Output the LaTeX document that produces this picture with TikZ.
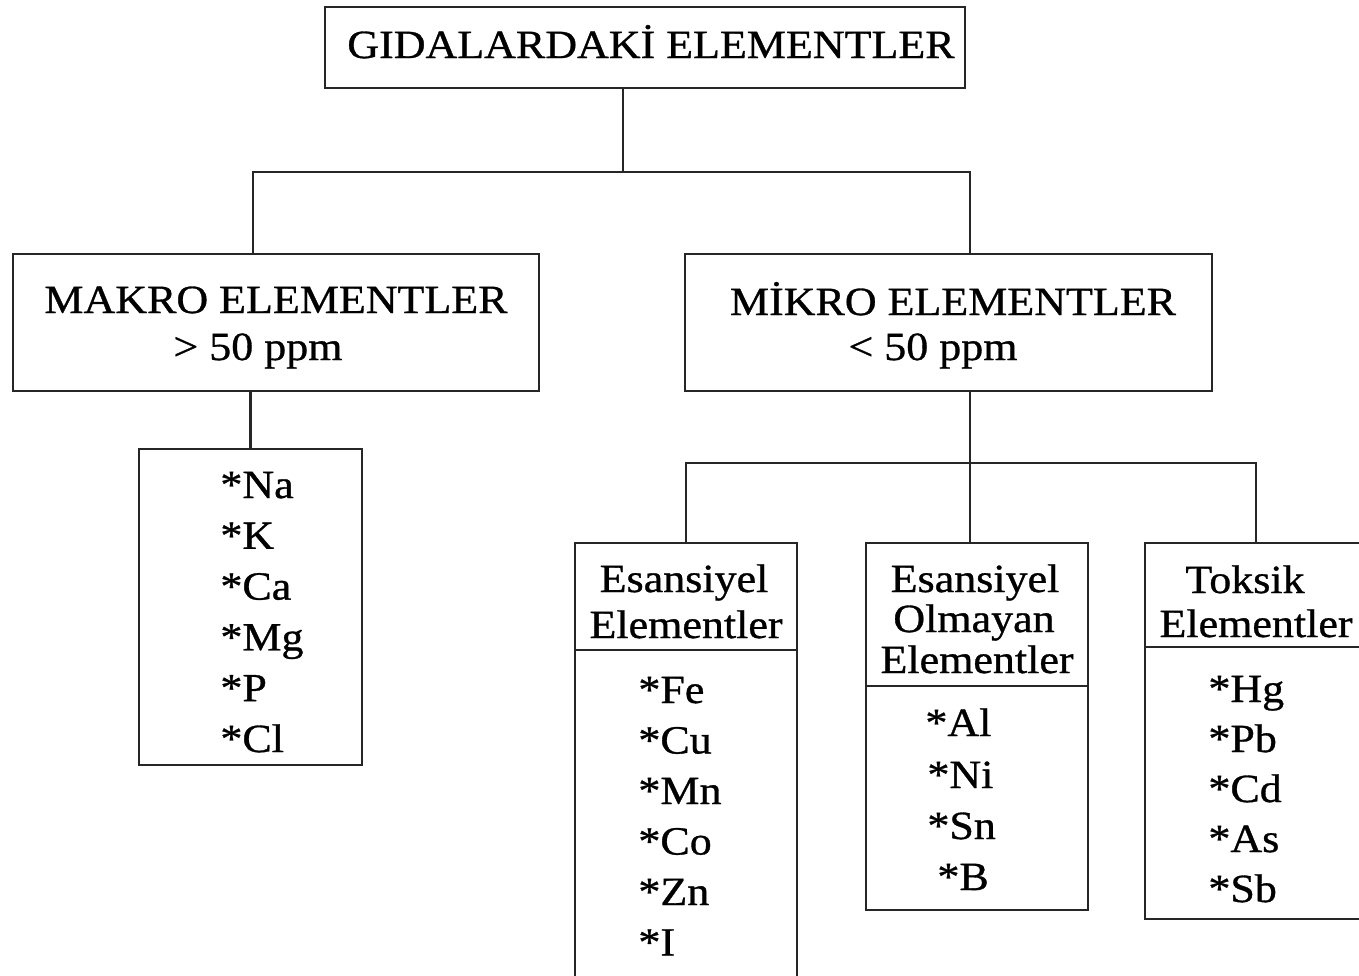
\documentclass[tikz,border=0pt]{standalone}
\usepackage{fontspec}
\setmainfont[FakeStretch=1.1,FakeBold=0.8]{Liberation Serif}
\usetikzlibrary{calc}
\begin{document}
\begin{tikzpicture}[x=0.5pt,y=-0.5pt,
  box/.style={draw=black!85, line width=1.4pt, inner sep=0pt, outer sep=0pt, fill=none},
  link/.style={draw=black!85, line width=1.4pt},
  txt/.style={inner sep=0pt, anchor=base, font=\fontsize{20}{24}\selectfont},
  item/.style={inner sep=0pt, anchor=base west, font=\fontsize{20}{24}\selectfont}]
\useasboundingbox (0,0) rectangle (1359,975);
\fill[white] (0,0) rectangle (1359,975);
\begin{scope}
\clip (0,0) rectangle (1359,975);

% boxes
\node[box, minimum width=320pt, minimum height=40.5pt] (top) at (645,47.5) {};
\node[box, minimum width=263pt, minimum height=68.5pt] (makro) at (276,322.5) {};
\node[box, minimum width=263.5pt, minimum height=68.5pt] (mikro) at (948.5,322.5) {};
\node[box, minimum width=111.5pt, minimum height=158pt] (mlist) at (250.5,607) {};
\node[box, minimum width=111pt, minimum height=228.5pt] (ess) at (686,771.5) {};
\node[box, minimum width=111pt, minimum height=183.5pt] (olm) at (977,726.5) {};
\node[box, minimum width=111pt, minimum height=188pt] (tok) at (1256,731) {};

% header dividers
\draw[link] (ess.west |- 0,650) -- (ess.east |- 0,650);
\draw[link] (olm.west |- 0,686) -- (olm.east |- 0,686);
\draw[link] (tok.west |- 0,647) -- (tok.east |- 0,647);

% connectors
\coordinate (j1) at (623,172);
\coordinate (j2) at (970,463);
\draw[link] (top.south -| j1) -- (j1);
\draw[link] ($(makro.north)+(-23,0)$) |- (j1) -| ($(mikro.north)+(21.5,0)$);
\draw[link] (mlist.north) -- (mlist.north |- makro.south);
\draw[link] (mikro.south -| j2) -- (j2);
\draw[link] (ess.north) |- (j2) -| (tok.north);
\draw[link] (olm.north -| j2) -- (j2);

% texts
\node[txt] (t0) at (651,58) {GIDALARDAKİ ELEMENTLER};
\node[txt] (t1) at (276,313) {MAKRO ELEMENTLER};
\node[txt] (t2) at (258,360) {> 50 ppm};
\node[txt] (t3) at (953,315) {MİKRO ELEMENTLER};
\node[txt] (t4) at (933,360) {< 50 ppm};

\node[txt] (e1) at (684,592) {Esansiyel};
\node[txt] (e2) at (686,638) {Elementler};
\node[txt] (o1) at (975,592) {Esansiyel};
\node[txt] (o2) at (974,632) {Olmayan};
\node[txt] (o3) at (977,673) {Elementler};
\node[txt] (k1) at (1245,593) {Toksik};
\node[txt] (k2) at (1256,637) {Elementler};

% element lists
\foreach \s [count=\i] in {Na,K,Ca,Mg,P,Cl}
  \node[item] (ma\i) at (220,{498+50.8*(\i-1)}) {*\s};
\foreach \s [count=\i] in {Fe,Cu,Mn,Co,Zn,I}
  \node[item] (es\i) at (638,{703+50.5*(\i-1)}) {*\s};
\node[item] (ol1) at (925,736) {*Al};
\node[item] (ol2) at (927,788) {*Ni};
\node[item] (ol3) at (927,839) {*Sn};
\node[item] (ol4) at (937,890) {*B};
\foreach \s [count=\i] in {Hg,Pb,Cd,As,Sb}
  \node[item] (to\i) at (1208,{702+50*(\i-1)}) {*\s};
\end{scope}
\end{tikzpicture}
\end{document}
